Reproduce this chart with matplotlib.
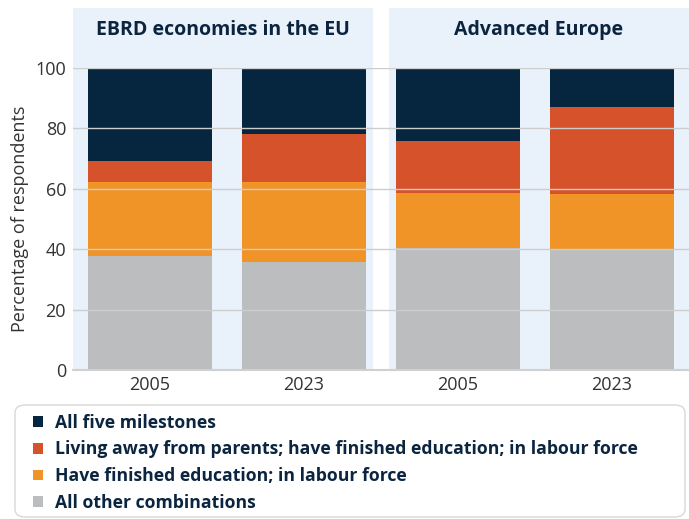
import matplotlib
matplotlib.use("Agg")
import matplotlib.pyplot as plt
from matplotlib.patches import Rectangle, Patch, FancyBboxPatch

plt.rcParams["font.family"] = ["Open Sans", "DejaVu Sans"]

groups = ["EBRD economies in the EU", "Advanced Europe"]
years = ["2005", "2023", "2005", "2023"]
series = [
    "All other combinations",
    "Have finished education; in labour force",
    "Living away from parents; have finished education; in labour force",
    "All five milestones",
]
other = [37.7, 35.8, 40.4, 39.7]
educ_labour = [24.6, 26.5, 18.3, 18.6]
away_educ_labour = [6.9, 15.8, 17.1, 28.8]
all_five = [30.8, 21.9, 24.2, 12.9]
colors = ["#BCBDBF", "#F19428", "#D6522A", "#06263F"]

values = [other, educ_labour, away_educ_labour, all_five]

W, H = 689, 519
fig = plt.figure(figsize=(W / 100, H / 100), dpi=100)
ax = fig.add_axes([73 / W, (H - 370) / H, 616 / W, 302 / H])

x = list(range(len(years)))
ax.set_xlim(-0.5, 3.5)
ax.set_ylim(0, 100)

# panel backgrounds with header strip
panel_bg = "#E9F2FA"
gap = 0.052
top = 119.9
for i, name in enumerate(groups):
    x0 = -0.5 + 2 * i + (gap if i == 1 else 0)
    x1 = 1.5 + 2 * i - (gap if i == 0 else 0)
    ax.add_patch(Rectangle((x0, 0), x1 - x0, top, facecolor=panel_bg,
                           edgecolor="none", zorder=0, clip_on=False))
    ax.text((x0 + x1) / 2, 112.6, name, ha="center", va="center",
            fontsize=14, fontweight="bold", color="#0B2540", clip_on=False)

ax.set_yticks([0, 20, 40, 60, 80, 100])
ax.grid(axis="y", color="#CDCDCD", linewidth=1.0, zorder=1)
ax.set_axisbelow(False)

bottom = [0.0] * len(years)
for vals, col, lab in zip(values, colors, series):
    ax.bar(x, vals, width=0.805, bottom=bottom, color=col, label=lab,
           zorder=2, linewidth=0)
    bottom = [b + v for b, v in zip(bottom, vals)]

ax.set_xticks(x)
ax.set_xticklabels(years)
ax.tick_params(axis="both", length=0, labelsize=13, colors="#333333")
ax.tick_params(axis="x", pad=4)
ax.tick_params(axis="y", pad=5)
for s in ["top", "right", "left"]:
    ax.spines[s].set_visible(False)
ax.spines["bottom"].set_color("#D0D0D0")
ax.spines["bottom"].set_linewidth(1.5)
ax.spines["bottom"].set_zorder(3)
ax.set_facecolor("none")

ax.set_ylabel("Percentage of respondents", fontsize=13, color="#333333")
ax.yaxis.set_label_coords(-0.072, 0.5)

# legend box
box = FancyBboxPatch((15 / W, 2 / H), 670 / W, (H - 405 - 2) / H,
                     boxstyle="round,pad=0,rounding_size=0.015",
                     transform=fig.transFigure, facecolor="white",
                     edgecolor="#D8D8D8", linewidth=1.0)
fig.patches.append(box)

handles = [Patch(facecolor=c, edgecolor="none") for c in colors[::-1]]
leg = fig.legend(handles, series[::-1], loc="upper left",
                 bbox_to_anchor=(24 / W, (H - 405) / H),
                 frameon=False, handlelength=0.55, handleheight=0.55,
                 handletextpad=0.7, labelspacing=0.49, borderpad=0,
                 prop={"size": 12.7, "weight": "bold"})
for t in leg.get_texts():
    t.set_color("#0B2540")

fig.savefig("out.png", dpi=100)
